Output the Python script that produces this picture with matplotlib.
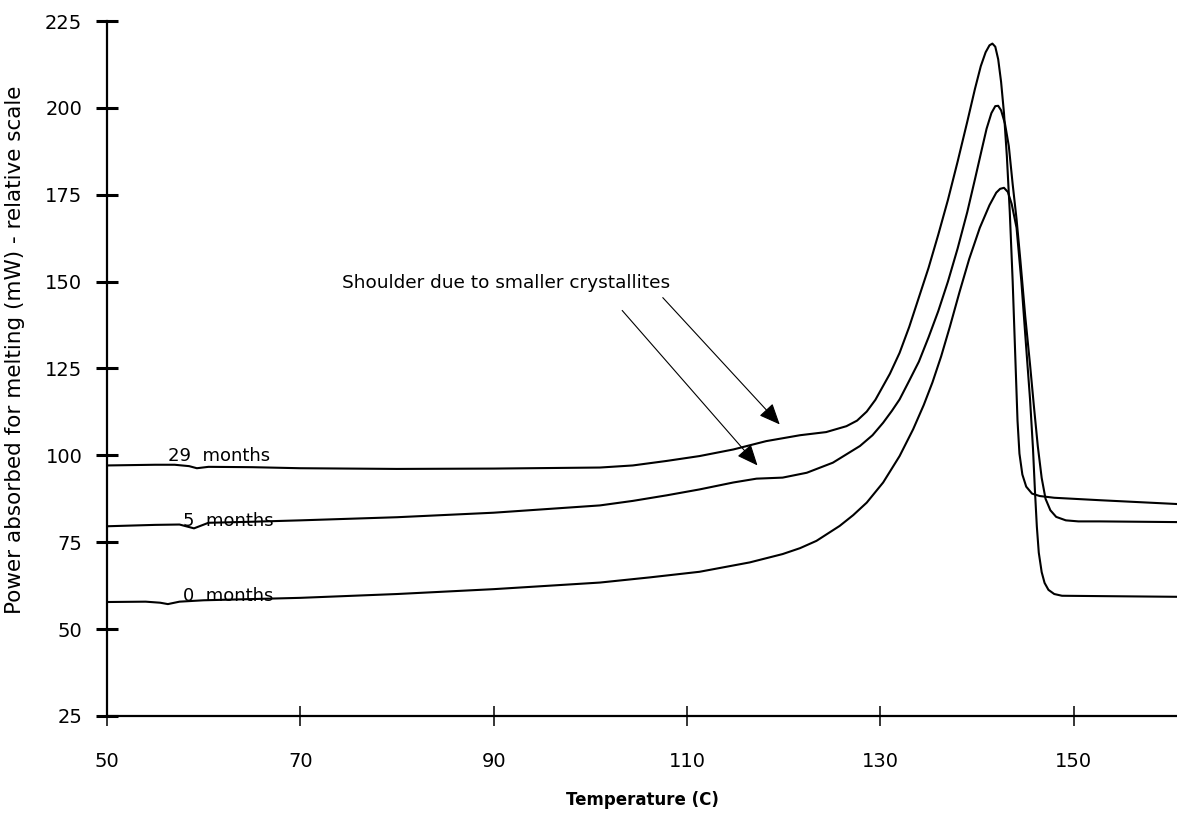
import matplotlib
matplotlib.use("Agg")
import matplotlib.pyplot as plt

# DSC melting curves
t_29 = [50, 55, 57, 58.5, 59.3, 60.5, 65, 70, 80, 90, 101, 104.4, 107.9, 111.3, 114.8,
        118.2, 121.7, 124.4, 126.5, 127.6, 128.6, 129.5, 130.3, 131, 132, 133, 134,
        135, 136, 137, 138, 139, 139.8, 140.4, 140.9, 141.3, 141.6, 141.9, 142.2,
        142.5, 142.8, 143.1, 143.4, 143.7, 144.0, 144.2, 144.4, 144.7, 145.1, 145.7,
        146.5, 148, 152.7, 160.7]
p_29 = [97.1, 97.3, 97.3, 96.9, 96.3, 96.7, 96.6, 96.3, 96.1, 96.2, 96.5, 97.1, 98.4,
        99.8, 101.7, 104.1, 105.8, 106.7, 108.4, 110.0, 112.6, 116.0, 120.0, 123.5,
        129.5, 137.0, 145.5, 154.0, 163.5, 173.5, 184.5, 196.0, 205.5, 212.0, 216.0,
        218.0, 218.5, 217.6, 214.0, 207.5, 198.5, 186.0, 170.0, 150.0, 126.0, 110.0,
        100.5, 94.5, 91.0, 89.0, 88.3, 87.8, 87.1, 86.0]

t_5 = [50, 55, 57.5, 59, 60.5, 65, 70, 80, 90, 101, 104.4, 107.9, 111.3, 114.8, 117.2,
       119.9, 122.4, 125.1, 127.9, 129.2, 130.3, 131.2, 132, 133, 134, 135, 136, 137,
       138, 139, 139.8, 140.5, 141.0, 141.5, 141.9, 142.2, 142.5, 142.9, 143.3, 143.7,
       144.1, 144.5, 145.0, 145.5, 145.9, 146.3, 146.7, 147.1, 147.6, 148.2, 149.2,
       150.5, 152.7, 160.7]
p_5 = [79.6, 80.0, 80.1, 79.0, 80.6, 80.9, 81.3, 82.2, 83.5, 85.6, 86.9, 88.5, 90.2,
       92.2, 93.3, 93.6, 95.0, 97.9, 102.7, 105.8, 109.4, 112.8, 116.1, 121.5, 127.0,
       134.0, 141.5, 150.0, 159.5, 170.0, 179.5, 188.0, 194.0, 198.5, 200.5, 200.6,
       199.3, 195.5, 189.0, 178.0, 168.0, 156.0, 140.0, 126.0, 114.0, 102.6, 93.5,
       87.5, 84.2, 82.3, 81.3, 81.0, 81.0, 80.8]

t_0 = [50, 54, 55.5, 56.3, 57.5, 60, 70, 80, 90, 101, 106.2, 111.3, 116.5, 119.9,
       121.7, 123.4, 125.8, 127.2, 128.6, 130.3, 132.0, 133.4, 134.5, 135.4, 136.3,
       137.2, 138.2, 139.2, 140.3, 141.3, 142.0, 142.4, 142.8, 143.2, 143.6, 144.1,
       144.6, 145.1, 145.5, 145.8, 146.0, 146.2, 146.4, 146.7, 147.0, 147.4, 148.0,
       148.8, 152.7, 160.7]
p_0 = [57.8, 57.9, 57.6, 57.2, 57.9, 58.3, 59.0, 60.1, 61.5, 63.4, 64.9, 66.5, 69.2,
       71.6, 73.3, 75.4, 79.7, 82.8, 86.4, 92.2, 99.8, 107.5, 114.5, 121.0, 128.5,
       137.0, 147.0, 156.5, 165.5, 172.0, 175.6, 176.7, 177.0, 175.8, 172.3, 165.5,
       150.0, 131.0, 116.0, 102.0, 90.0, 79.5, 72.0, 66.4, 63.3, 61.3, 60.1, 59.6,
       59.5, 59.3]

curve_labels = ["29  months", "5  months", "0  months"]
label_pos = [(56.3, 98.3), (57.9, 79.6), (57.9, 58.0)]

note = "Shoulder due to smaller crystallites"
arrow_tips = [(119.6, 108.9), (117.3, 97.1)]
arrow_tails = [(107.5, 145.4), (103.3, 141.7)]

x_ticks = [50, 70, 90, 110, 130, 150]
y_ticks = [25, 50, 75, 100, 125, 150, 175, 200, 225]

fig = plt.figure(figsize=(11.77, 8.14), dpi=100)
ax = fig.add_axes([0.0909, 0.1204, 0.9091, 0.8538])

for t, p in [(t_29, p_29), (t_5, p_5), (t_0, p_0)]:
    ax.plot(t, p, color="black", lw=1.5, solid_joinstyle="round")

for lab, (x, y) in zip(curve_labels, label_pos):
    ax.text(x, y, lab, fontsize=13, va="baseline", ha="left")

ax.text(74.3, 149.7, note, fontsize=13.3, va="center", ha="left")
for tip, tail in zip(arrow_tips, arrow_tails):
    ax.annotate("", xy=tip, xytext=tail,
                arrowprops=dict(arrowstyle="-|>,head_length=0.65,head_width=0.28",
                                mutation_scale=20, lw=0.8, color="black",
                                shrinkA=0, shrinkB=0))

ax.set_xlim(50, 160.7)
ax.set_ylim(25, 225)
ax.spines["top"].set_visible(False)
ax.spines["right"].set_visible(False)
ax.spines["left"].set_linewidth(1.6)
ax.spines["bottom"].set_linewidth(1.6)

ax.set_xticks(x_ticks)
ax.set_yticks(y_ticks)
ax.tick_params(axis="y", direction="inout", length=16.5, width=2.2, pad=9.5,
               labelsize=14)
ax.tick_params(axis="x", direction="inout", length=14.5, width=1.1, pad=19,
               labelsize=14)

ax.set_xlabel("Temperature (C)", fontsize=12, fontweight="bold", labelpad=14)
ax.set_ylabel("Power absorbed for melting (mW) - relative scale", fontsize=15.5)
ax.yaxis.set_label_coords(-0.077, 0.527)

fig.savefig("out.png", dpi=100)
